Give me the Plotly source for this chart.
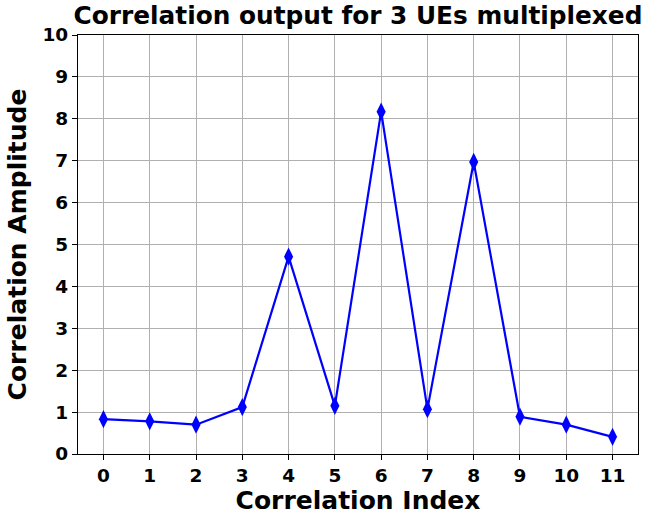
import plotly.graph_objects as go

corr_index = list(range(12))
corr_amplitude = [0.83, 0.78, 0.70, 1.12, 4.71, 1.15, 8.17, 1.07, 6.97, 0.89, 0.70, 0.41]
x_ticks = list(range(12))
y_ticks = list(range(11))

font_family = "DejaVu Sans"

fig = go.Figure()
fig.add_trace(go.Scatter(
    x=corr_index, y=corr_amplitude, mode="lines+markers",
    line=dict(color="blue", width=2.2),
    marker=dict(symbol="diamond-tall", size=13, color="blue"),
    showlegend=False,
))

axis_common = dict(
    showline=True, linecolor="black", linewidth=1.3, mirror=True,
    ticks="outside", ticklen=5, tickcolor="black", tickwidth=1.2,
    showgrid=True, gridcolor="#b0b0b0", gridwidth=1.2, zeroline=False,
    tickfont=dict(family=font_family, size=18.5, color="black", weight="bold"),
)

fig.update_layout(
    width=645, height=516,
    margin=dict(l=78, r=7, t=35, b=62),
    paper_bgcolor="white", plot_bgcolor="white",
    title=dict(text="<b>Correlation output for 3 UEs multiplexed</b>",
               x=0.555, xanchor="center", y=0.988, yanchor="top",
               font=dict(family=font_family, size=24.8, color="black")),
    xaxis=dict(range=[-0.55, 11.55], tickvals=x_ticks,
               title=dict(text="<b>Correlation Index</b>", standoff=4,
                          font=dict(family=font_family, size=25, color="black")),
               **axis_common),
    yaxis=dict(range=[0, 10], tickvals=y_ticks,
               title=dict(text="<b>Correlation Amplitude</b>", standoff=8,
                          font=dict(family=font_family, size=25, color="black")),
               **axis_common),
)

fig.write_html("out.html")
